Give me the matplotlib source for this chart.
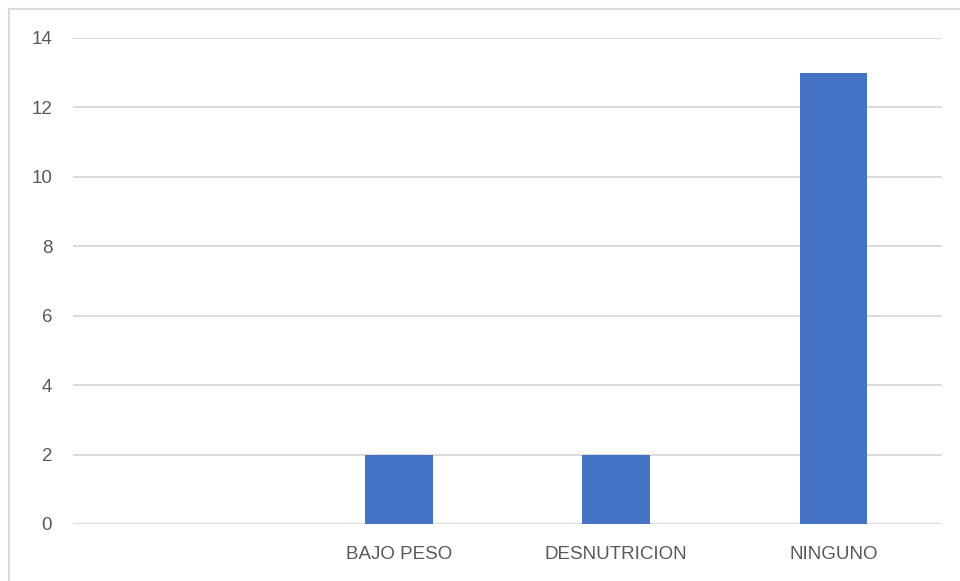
import matplotlib.pyplot as plt
from matplotlib.patches import Rectangle

# categorias y conteos
categorias = ["", "BAJO PESO", "DESNUTRICION", "NINGUNO"]
valores = [0, 2, 2, 13]
marcas_y = [0, 2, 4, 6, 8, 10, 12, 14]

plt.rcParams["font.family"] = ["Liberation Sans", "DejaVu Sans"]

fig = plt.figure(figsize=(9.6, 5.81), dpi=100)
ax = fig.add_axes([73 / 960, 57 / 581, 869 / 960, 486 / 581])

x = list(range(len(categorias)))
ax.bar(x, valores, width=0.31, color="#4472c4", linewidth=0, zorder=3)

ax.set_xlim(-0.5, len(categorias) - 0.5)
ax.set_ylim(0, 14)
ax.set_yticks(marcas_y)
ax.set_xticks(x)
ax.set_xticklabels(categorias)
ax.grid(axis="y", color="#d9d9d9", linewidth=1.3, zorder=0)
ax.tick_params(axis="both", length=0, colors="#595959", labelsize=13.5)
ax.tick_params(axis="y", pad=15)
ax.tick_params(axis="x", pad=16)
for s in ax.spines.values():
    s.set_visible(False)

# marco del grafico
fig.patches.append(Rectangle((8.5 / 960, -0.1), 1.2, 1.1 - 8.5 / 581,
                             transform=fig.transFigure, fill=False,
                             edgecolor="#d9d9d9", linewidth=1.5))

fig.savefig("out.png", dpi=100)
